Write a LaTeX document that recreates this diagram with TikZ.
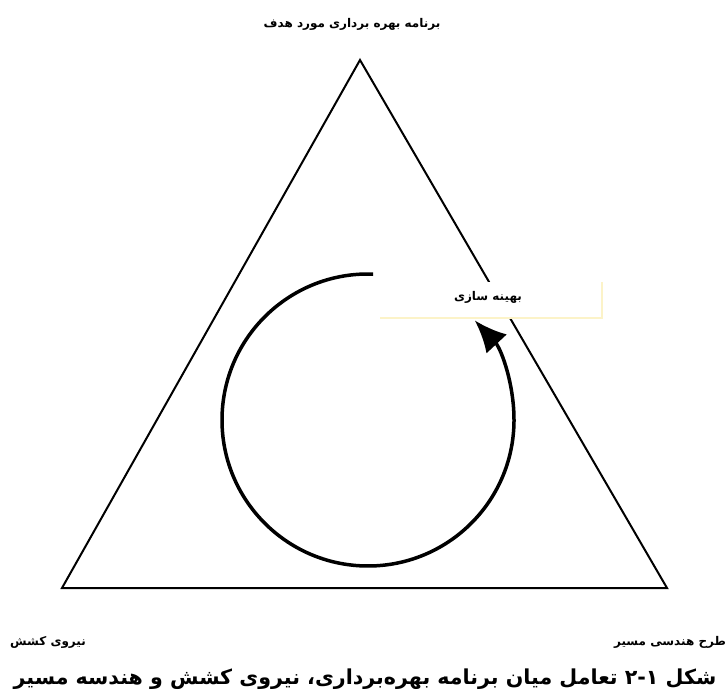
\documentclass[tikz,border=0pt]{standalone}
\usepackage{fontspec}
\usetikzlibrary{arrows.meta}
\TeXXeTstate=1
\newfontfamily\farsi[Script=Arabic]{DejaVu Sans}
\definecolor{shadow}{HTML}{FCF3C8}

\newcommand{\dims}{
\def\rc{146}     % radius of the loop
\def\bot{111}    % base line of the triangle
}

\tikzset{
  lbl/.style={font=\farsi\bfseries\fontsize{12}{14}\selectfont, inner sep=0pt},
  captxt/.style={font=\farsi\bfseries\fontsize{20.6}{25}\selectfont, inner sep=0pt},
}

\begin{document}
\begin{tikzpicture}[x=1pt,y=1pt]
  \dims
  \useasboundingbox (0,0) rectangle (727,699);
  \coordinate (top) at (360,639);
  \coordinate (left) at (62,\bot);
  \coordinate (right) at (667,\bot);
  \coordinate (c) at (368,279);
%
  \draw[line width=2pt, line join=miter] (top) -- (left) -- (right) -- cycle;
%
  \node[fill=white, minimum width=222, minimum height=36, inner sep=0pt] (opt) at (491,399) {};
  \node[lbl] at (488,402) {\beginR بهینه سازی\endR};
  \draw[shadow, line width=1.5pt] (opt.north east) -- (opt.south east) -- (opt.south west);
%
  \draw[line width=3.5pt, -{Latex[length=32pt,width=28pt]}] ([shift={(88:\rc)}]c) arc[start angle=88, end angle=403, radius=\rc];
%
  \node[lbl] (plan) at (352,675) {\beginR برنامه بهره برداری مورد هدف\endR};
  \node[lbl] (force) at (48,57) {\beginR نیروی کشش\endR};
  \node[lbl] (geom) at (670,57) {\beginR طرح هندسی مسیر\endR};
  \node[captxt] (caption) at (365,20) {\beginR شکل ۲-۱ تعامل میان برنامه بهره‌برداری، نیروی کشش و هندسه مسیر\endR};
\end{tikzpicture}
\end{document}
